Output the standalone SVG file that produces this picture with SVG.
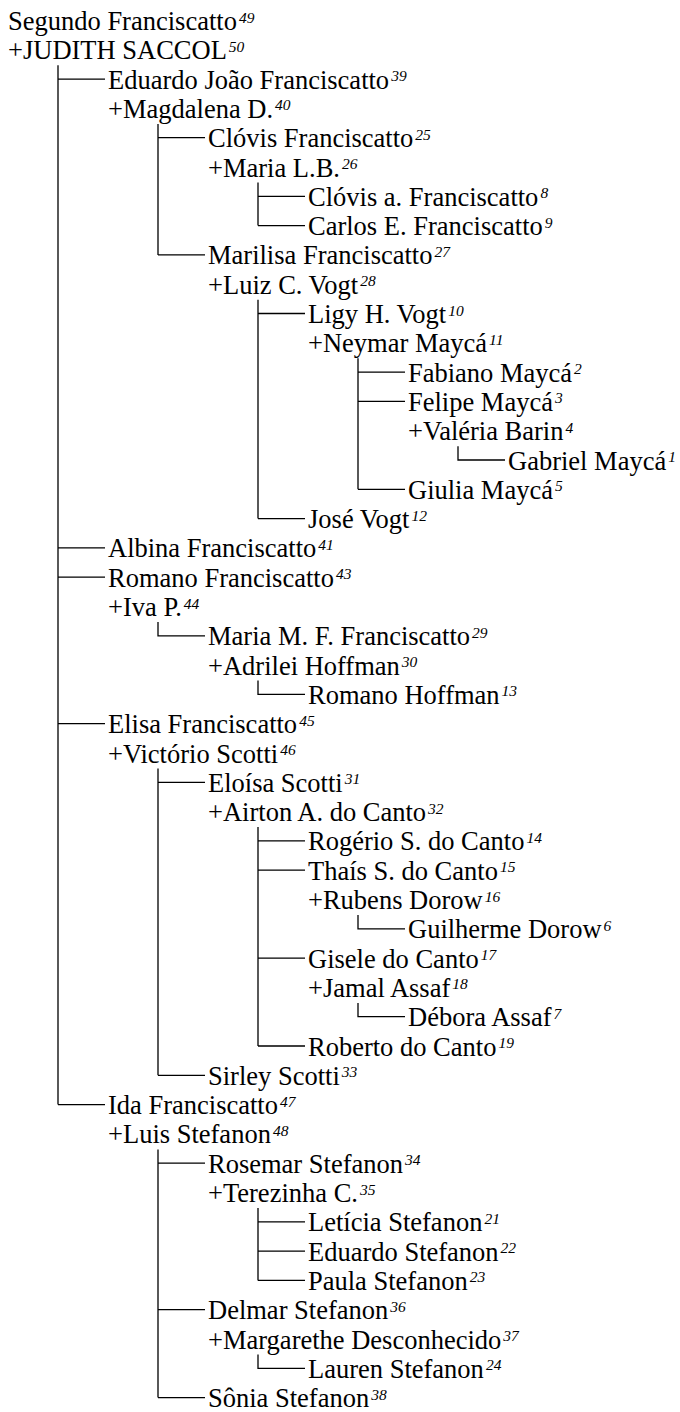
<svg xmlns="http://www.w3.org/2000/svg" width="680" height="1412" viewBox="0 0 680 1412">
<style>
text{font-family:"Liberation Serif","Times New Roman",serif;font-size:26.5px;fill:#000}
.s{font-style:italic;font-size:15.5px}
.c path{fill:none;stroke:#000;stroke-width:1.3}
</style>
<rect width="680" height="1412" fill="#fff"/>
<g class="c" id="connectors">
<path d="M58 65.3V1104.6M58 79.1H105M58 547.9H105M58 577.2H105M58 723.7H105M58 1104.6H105"/>
<path d="M158 123.9V254.9M158 137.7H205M158 254.9H205"/>
<path d="M258 182.5V225.6M258 196.3H305M258 225.6H305"/>
<path d="M258 299.7V518.6M258 313.5H305M258 518.6H305"/>
<path d="M358 358.3V489.3M358 372.1H405M358 401.4H405M358 489.3H405"/>
<path d="M458 446.2V460H505"/>
<path d="M158 622V635.8H205"/>
<path d="M258 680.6V694.4H305"/>
<path d="M158 768.5V1075.3M158 782.3H205M158 1075.3H205"/>
<path d="M258 827.1V1046M258 840.9H305M258 870.2H305M258 958.1H305M258 1046H305"/>
<path d="M358 915V928.8H405"/>
<path d="M358 1002.9V1016.7H405"/>
<path d="M158 1149.4V1397.6M158 1163.2H205M158 1309.7H205M158 1397.6H205"/>
<path d="M258 1208V1280.4M258 1221.8H305M258 1251.1H305M258 1280.4H305"/>
<path d="M258 1354.5V1368.3H305"/>
</g>
<g id="n49"><text x="8" y="30">Segundo Franciscatto<tspan class="s" dx="2" dy="-7.5">49</tspan></text></g>
<g id="n50"><text x="8" y="59.3">+JUDITH SACCOL<tspan class="s" dx="2" dy="-7.5">50</tspan></text></g>
<g id="n39"><text x="108" y="88.6">Eduardo João Franciscatto<tspan class="s" dx="2" dy="-7.5">39</tspan></text></g>
<g id="n40"><text x="108" y="117.9">+Magdalena D.<tspan class="s" dx="2" dy="-7.5">40</tspan></text></g>
<g id="n25"><text x="208" y="147.2">Clóvis Franciscatto<tspan class="s" dx="2" dy="-7.5">25</tspan></text></g>
<g id="n26"><text x="208" y="176.5">+Maria L.B.<tspan class="s" dx="2" dy="-7.5">26</tspan></text></g>
<g id="n8"><text x="308" y="205.8">Clóvis a. Franciscatto<tspan class="s" dx="2" dy="-7.5">8</tspan></text></g>
<g id="n9"><text x="308" y="235.1">Carlos E. Franciscatto<tspan class="s" dx="2" dy="-7.5">9</tspan></text></g>
<g id="n27"><text x="208" y="264.4">Marilisa Franciscatto<tspan class="s" dx="2" dy="-7.5">27</tspan></text></g>
<g id="n28"><text x="208" y="293.7">+Luiz C. Vogt<tspan class="s" dx="2" dy="-7.5">28</tspan></text></g>
<g id="n10"><text x="308" y="323">Ligy H. Vogt<tspan class="s" dx="2" dy="-7.5">10</tspan></text></g>
<g id="n11"><text x="308" y="352.3">+Neymar Maycá<tspan class="s" dx="2" dy="-7.5">11</tspan></text></g>
<g id="n2"><text x="408" y="381.6">Fabiano Maycá<tspan class="s" dx="2" dy="-7.5">2</tspan></text></g>
<g id="n3"><text x="408" y="410.9">Felipe Maycá<tspan class="s" dx="2" dy="-7.5">3</tspan></text></g>
<g id="n4"><text x="408" y="440.2">+Valéria Barin<tspan class="s" dx="2" dy="-7.5">4</tspan></text></g>
<g id="n1"><text x="508" y="469.5">Gabriel Maycá<tspan class="s" dx="2" dy="-7.5">1</tspan></text></g>
<g id="n5"><text x="408" y="498.8">Giulia Maycá<tspan class="s" dx="2" dy="-7.5">5</tspan></text></g>
<g id="n12"><text x="308" y="528.1">José Vogt<tspan class="s" dx="2" dy="-7.5">12</tspan></text></g>
<g id="n41"><text x="108" y="557.4">Albina Franciscatto<tspan class="s" dx="2" dy="-7.5">41</tspan></text></g>
<g id="n43"><text x="108" y="586.7">Romano Franciscatto<tspan class="s" dx="2" dy="-7.5">43</tspan></text></g>
<g id="n44"><text x="108" y="616">+Iva P.<tspan class="s" dx="2" dy="-7.5">44</tspan></text></g>
<g id="n29"><text x="208" y="645.3">Maria M. F. Franciscatto<tspan class="s" dx="2" dy="-7.5">29</tspan></text></g>
<g id="n30"><text x="208" y="674.6">+Adrilei Hoffman<tspan class="s" dx="2" dy="-7.5">30</tspan></text></g>
<g id="n13"><text x="308" y="703.9">Romano Hoffman<tspan class="s" dx="2" dy="-7.5">13</tspan></text></g>
<g id="n45"><text x="108" y="733.2">Elisa Franciscatto<tspan class="s" dx="2" dy="-7.5">45</tspan></text></g>
<g id="n46"><text x="108" y="762.5">+Victório Scotti<tspan class="s" dx="2" dy="-7.5">46</tspan></text></g>
<g id="n31"><text x="208" y="791.8">Eloísa Scotti<tspan class="s" dx="2" dy="-7.5">31</tspan></text></g>
<g id="n32"><text x="208" y="821.1">+Airton A. do Canto<tspan class="s" dx="2" dy="-7.5">32</tspan></text></g>
<g id="n14"><text x="308" y="850.4">Rogério S. do Canto<tspan class="s" dx="2" dy="-7.5">14</tspan></text></g>
<g id="n15"><text x="308" y="879.7">Thaís S. do Canto<tspan class="s" dx="2" dy="-7.5">15</tspan></text></g>
<g id="n16"><text x="308" y="909">+Rubens Dorow<tspan class="s" dx="2" dy="-7.5">16</tspan></text></g>
<g id="n6"><text x="408" y="938.3">Guilherme Dorow<tspan class="s" dx="2" dy="-7.5">6</tspan></text></g>
<g id="n17"><text x="308" y="967.6">Gisele do Canto<tspan class="s" dx="2" dy="-7.5">17</tspan></text></g>
<g id="n18"><text x="308" y="996.9">+Jamal Assaf<tspan class="s" dx="2" dy="-7.5">18</tspan></text></g>
<g id="n7"><text x="408" y="1026.2">Débora Assaf<tspan class="s" dx="2" dy="-7.5">7</tspan></text></g>
<g id="n19"><text x="308" y="1055.5">Roberto do Canto<tspan class="s" dx="2" dy="-7.5">19</tspan></text></g>
<g id="n33"><text x="208" y="1084.8">Sirley Scotti<tspan class="s" dx="2" dy="-7.5">33</tspan></text></g>
<g id="n47"><text x="108" y="1114.1">Ida Franciscatto<tspan class="s" dx="2" dy="-7.5">47</tspan></text></g>
<g id="n48"><text x="108" y="1143.4">+Luis Stefanon<tspan class="s" dx="2" dy="-7.5">48</tspan></text></g>
<g id="n34"><text x="208" y="1172.7">Rosemar Stefanon<tspan class="s" dx="2" dy="-7.5">34</tspan></text></g>
<g id="n35"><text x="208" y="1202">+Terezinha C.<tspan class="s" dx="2" dy="-7.5">35</tspan></text></g>
<g id="n21"><text x="308" y="1231.3">Letícia Stefanon<tspan class="s" dx="2" dy="-7.5">21</tspan></text></g>
<g id="n22"><text x="308" y="1260.6">Eduardo Stefanon<tspan class="s" dx="2" dy="-7.5">22</tspan></text></g>
<g id="n23"><text x="308" y="1289.9">Paula Stefanon<tspan class="s" dx="2" dy="-7.5">23</tspan></text></g>
<g id="n36"><text x="208" y="1319.2">Delmar Stefanon<tspan class="s" dx="2" dy="-7.5">36</tspan></text></g>
<g id="n37"><text x="208" y="1348.5">+Margarethe Desconhecido<tspan class="s" dx="2" dy="-7.5">37</tspan></text></g>
<g id="n24"><text x="308" y="1377.8">Lauren Stefanon<tspan class="s" dx="2" dy="-7.5">24</tspan></text></g>
<g id="n38"><text x="208" y="1407.1">Sônia Stefanon<tspan class="s" dx="2" dy="-7.5">38</tspan></text></g>
</svg>
